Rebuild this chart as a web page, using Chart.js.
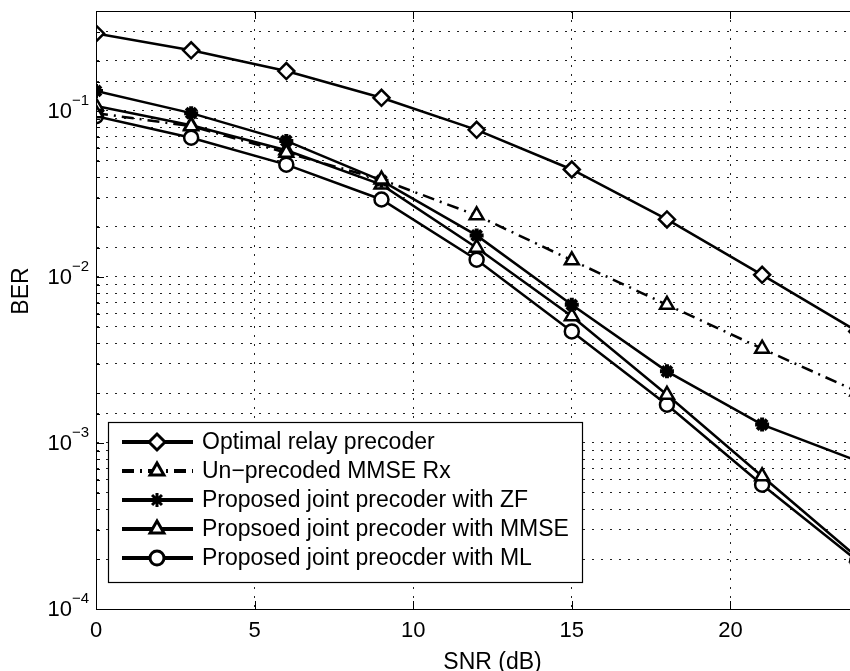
<!DOCTYPE html>
<html>
<head>
<meta charset="utf-8">
<script src="https://cdn.jsdelivr.net/npm/chart.js@4.4.1/dist/chart.umd.min.js"></script>
<style>
  html, body { margin: 0; padding: 0; background: #fff; overflow: hidden; }
  #wrap { width: 900px; height: 671px; }
</style>
</head>
<body>
<div id="wrap"><canvas id="chart" width="900" height="671"></canvas></div>
<script>
// SNR points (dB)
const snr = [0, 3, 6, 9, 12, 15, 18, 21, 24];

// BER values
const optimalRelay = [0.293, 0.232, 0.174, 0.120, 0.077, 0.0444, 0.0222, 0.0103, 0.0047];
const unprecodedMmse = [0.097, 0.081, 0.056, 0.0386, 0.0235, 0.0126, 0.0068, 0.0037, 0.00204];
const jointZf = [0.132, 0.097, 0.066, 0.038, 0.0178, 0.0068, 0.0027, 0.00129, 0.00078];
const jointMmse = [0.107, 0.082, 0.058, 0.036, 0.0150, 0.0058, 0.00195, 0.00063, 0.000205];
const jointMl = [0.093, 0.069, 0.0475, 0.0293, 0.0127, 0.0047, 0.0017, 0.00056, 0.000195];

const seriesLabels = [
  'Optimal relay precoder',
  'Un\u2212precoded MMSE Rx',
  'Proposed joint precoder with ZF',
  'Propsoed joint precoder with MMSE',
  'Proposed joint preocder with ML'
];

const yDecades = [-4, -3, -2, -1];
const xTickStep = 5;

const FONT = "'Liberation Sans', Arial, Helvetica, sans-serif";

function pts(ys) {
  return snr.map((x, i) => ({x: x, y: ys[i]}));
}

// MATLAB-ish inward tick marks, frame and y labels
const axesDecor = {
  id: 'axesDecor',
  afterDatasetsDraw(chart) {
    const {ctx, chartArea: a, scales: {x, y}} = chart;
    ctx.save();
    ctx.strokeStyle = '#000';
    ctx.lineWidth = 1;
    ctx.setLineDash([]);
    ctx.strokeRect(a.left + 0.5, a.top + 0.5, a.right - a.left, a.bottom - a.top);

    ctx.beginPath();
    y.ticks.forEach(t => {
      const lg = Math.log10(t.value);
      const major = Math.abs(lg - Math.round(lg)) < 1e-6;
      const len = major ? 8 : 4;
      const py = Math.round(y.getPixelForValue(t.value)) + 0.5;
      ctx.moveTo(a.left, py); ctx.lineTo(a.left + len, py);
      ctx.moveTo(a.right, py); ctx.lineTo(a.right - len, py);
    });
    x.ticks.forEach(t => {
      const px = Math.round(x.getPixelForValue(t.value)) + 0.5;
      ctx.moveTo(px, a.bottom); ctx.lineTo(px, a.bottom - 8);
      ctx.moveTo(px, a.top); ctx.lineTo(px, a.top + 8);
    });
    ctx.stroke();

    // y tick labels 10^k
    ctx.fillStyle = '#000';
    yDecades.forEach(k => {
      const py = y.getPixelForValue(Math.pow(10, k));
      ctx.font = '22px ' + FONT;
      ctx.textAlign = 'right';
      ctx.textBaseline = 'middle';
      ctx.fillText('10', a.left - 24, py + 1);
      ctx.font = '15px ' + FONT;
      ctx.textAlign = 'left';
      ctx.fillText('\u2212' + Math.abs(k), a.left - 24, py - 10);
    });

    // y title
    ctx.save();
    ctx.translate(22, 291);
    ctx.rotate(-Math.PI / 2);
    ctx.font = '23px ' + FONT;
    ctx.textAlign = 'center';
    ctx.textBaseline = 'middle';
    ctx.fillText('BER', 0, 0);
    ctx.restore();
    ctx.restore();
  }
};

// legend box inside the plot
const boxLegend = {
  id: 'boxLegend',
  afterDraw(chart) {
    const {ctx} = chart;
    const left = 108, top = 422, right = 582, bottom = 582;
    ctx.save();
    ctx.fillStyle = '#fff';
    ctx.fillRect(left, top, right - left, bottom - top);
    ctx.strokeStyle = '#000';
    ctx.lineWidth = 1.2;
    ctx.setLineDash([]);
    ctx.strokeRect(left + 0.5, top + 0.5, right - left, bottom - top);

    chart.data.datasets.forEach((ds, i) => {
      const cy = 442 + i * 29;
      ctx.strokeStyle = '#000';
      ctx.lineWidth = 4;
      ctx.setLineDash(ds.borderDash || []);
      ctx.beginPath();
      ctx.moveTo(122, cy); ctx.lineTo(193, cy);
      ctx.stroke();
      ctx.setLineDash([]);
      ctx.fillStyle = ds.pointBackgroundColor;
      ctx.lineWidth = 3;
      Chart.helpers.drawPoint(ctx, {
        pointStyle: ds.pointStyle,
        radius: ds.pointRadius,
        rotation: 0,
        borderWidth: 3
      }, 157, cy);
      ctx.fillStyle = '#000';
      ctx.font = '23px ' + FONT;
      ctx.textAlign = 'left';
      ctx.textBaseline = 'middle';
      ctx.fillText(ds.label, 202, cy + 1);
    });
    ctx.restore();
  }
};

function series(label, ys, style, radius, fill, dash, pbw) {
  return {
    label: label,
    data: pts(ys),
    borderColor: '#000',
    borderWidth: 2.5,
    borderDash: dash || [],
    pointStyle: style,
    pointRadius: radius,
    pointHoverRadius: radius,
    pointBorderWidth: pbw || 2.5,
    pointBorderColor: '#000',
    pointBackgroundColor: fill,
    fill: false,
    tension: 0
  };
}

const ctx = document.querySelector('#chart').getContext('2d');
const chart = new Chart(ctx, {
  type: 'line',
  data: {
    datasets: [
      series(seriesLabels[0], optimalRelay, 'rectRot', 8, '#fff'),
      series(seriesLabels[1], unprecodedMmse, 'triangle', 8, '#fff', [12, 6, 2, 6]),
      series(seriesLabels[2], jointZf, 'star', 7, '#000', null, 4),
      series(seriesLabels[3], jointMmse, 'triangle', 8, '#fff'),
      series(seriesLabels[4], jointMl, 'circle', 7, '#fff')
    ]
  },
  options: {
    responsive: false,
    animation: false,
    layout: {padding: {left: 96, top: 9, right: 4, bottom: -3}},
    scales: {
      x: {
        type: 'linear',
        min: 0,
        max: 25,
        ticks: {
          stepSize: xTickStep,
          color: '#000',
          padding: 11,
          maxRotation: 0,
          font: {family: FONT, size: 22, lineHeight: 1},
          callback: v => (v === 25 ? '' : v)
        },
        grid: {color: '#222', lineWidth: 1, drawTicks: false},
        border: {display: true, color: '#000', width: 1, dash: [2, 7]},
        title: {
          display: true,
          text: 'SNR (dB)',
          color: '#000',
          font: {family: FONT, size: 23, lineHeight: 1},
          padding: {top: -2, bottom: 0}
        }
      },
      y: {
        type: 'logarithmic',
        min: 1e-4,
        max: 0.4,
        ticks: {display: false},
        grid: {color: '#222', lineWidth: 1, drawTicks: false},
        border: {display: true, color: '#000', width: 1, dash: [2, 7]}
      }
    },
    plugins: {
      legend: {display: false},
      tooltip: {enabled: false}
    }
  },
  plugins: [axesDecor, boxLegend]
});
</script>
</body>
</html>
